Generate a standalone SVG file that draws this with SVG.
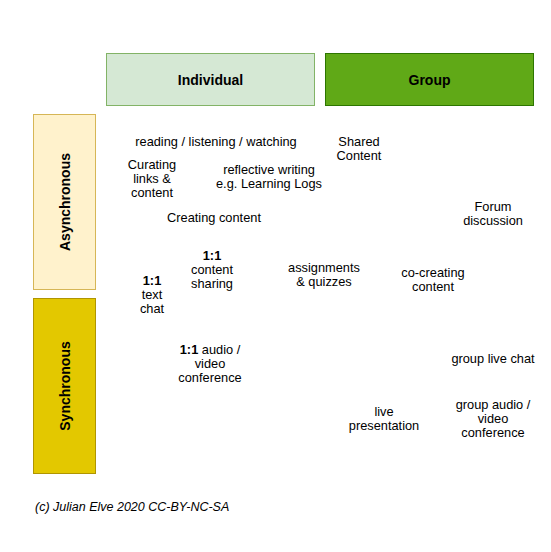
<svg xmlns="http://www.w3.org/2000/svg" width="551" height="552" viewBox="0 0 551 552">
<style>
text{font-family:"Liberation Sans",Arial,sans-serif;font-size:12.8px;fill:#000;text-anchor:middle}
.h{font-weight:bold;font-size:14px}
.b{font-weight:bold}
.f{text-anchor:start;font-style:italic;font-size:12.5px}
</style>
<rect width="551" height="552" fill="#fff"/>
<g id="individual"><rect x="106.5" y="53.5" width="208" height="52" fill="#d5e8d4" stroke="#82b366"/><text class="h" x="210.5" y="85">Individual</text></g>
<g id="group"><rect x="325.5" y="53.5" width="208" height="52" fill="#60a917" stroke="#2d7600"/><text class="h" x="429.5" y="85" fill="#1a1a1a">Group</text></g>
<g id="asynchronous"><rect x="33.5" y="114.5" width="62" height="175" fill="#fff2cc" stroke="#d6b656"/><text class="h" transform="translate(70,202) rotate(-90)">Asynchronous</text></g>
<g id="synchronous"><rect x="33.5" y="298.5" width="62" height="175" fill="#e3c800" stroke="#b09500"/><text class="h" transform="translate(70,386) rotate(-90)">Synchronous</text></g>
<g id="connectors"></g>
<g id="reading"><text x="216" y="146">reading / listening / watching</text></g>
<g id="shared"><text x="359" y="146">Shared</text><text x="359" y="160">Content</text></g>
<g id="curating"><text x="152" y="169">Curating</text><text x="152" y="183">links &amp;</text><text x="152" y="197">content</text></g>
<g id="reflective"><text x="269" y="174">reflective writing</text><text x="269" y="188">e.g. Learning Logs</text></g>
<g id="creating"><text x="214" y="222">Creating content</text></g>
<g id="forum"><text x="493" y="211">Forum</text><text x="493" y="225">discussion</text></g>
<g id="sharing"><text class="b" x="212" y="260">1:1</text><text x="212" y="274">content</text><text x="212" y="288">sharing</text></g>
<g id="assignments"><text x="324" y="272">assignments</text><text x="324" y="286">&amp; quizzes</text></g>
<g id="cocreating"><text x="433" y="277">co-creating</text><text x="433" y="291">content</text></g>
<g id="textchat"><text class="b" x="152" y="285">1:1</text><text x="152" y="299">text</text><text x="152" y="313">chat</text></g>
<g id="av11"><text x="210" y="354"><tspan font-weight="bold">1:1</tspan> audio /</text><text x="210" y="368">video</text><text x="210" y="382">conference</text></g>
<g id="grouplivechat"><text x="493" y="363">group live chat</text></g>
<g id="livepresentation"><text x="384" y="416">live</text><text x="384" y="430">presentation</text></g>
<g id="groupav"><text x="493" y="409">group audio /</text><text x="493" y="423">video</text><text x="493" y="437">conference</text></g>
<g id="footer"><text class="f" x="35" y="511">(c) Julian Elve 2020 CC-BY-NC-SA</text></g>
</svg>
